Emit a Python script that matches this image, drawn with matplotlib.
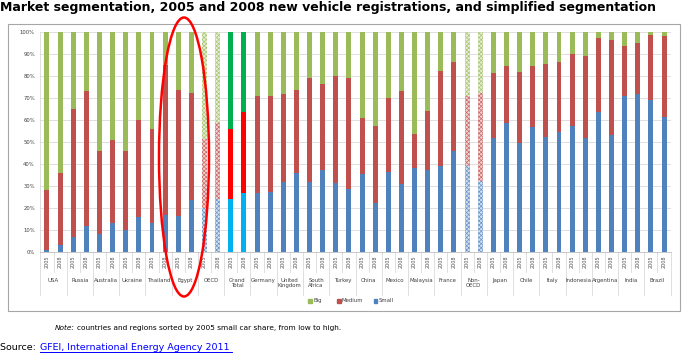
import matplotlib
matplotlib.use("Agg")
import matplotlib.pyplot as plt
from matplotlib.patches import Ellipse, Rectangle
import matplotlib.transforms as mtransforms
import matplotlib.colors as mcolors
import numpy as np

countries = ["USA", "Russia", "Australia", "Ukraine", "Thailand", "Egypt", "OECD",
             "Grand\nTotal", "Germany", "United\nKingdom", "South\nAfrica", "Turkey",
             "China", "Mexico", "Malaysia", "France", "Non-\nOECD", "Japan", "Chile",
             "Italy", "Indonesia", "Argentina", "India", "Brazil"]
years = ["2005", "2008"]

small = [1, 3, 7, 12, 8, 13, 10, 16, 13, 17, 16.5, 23.5, 20, 24, 24, 27,
         27, 27.5, 32, 36, 32, 37.5, 31.5, 28.5, 35.5, 22.5, 36.5, 31, 38, 37.5, 39, 46,
         39, 32.5, 52, 58.5, 49.5, 57, 52.5, 54.5, 57.5, 52, 63.5, 53, 71, 72, 69, 61.5]
medium = [27, 33, 58, 61, 38, 38, 36, 44, 43, 68, 57, 49, 31.5, 34.5, 32, 36.5,
          44, 43.5, 40, 37.5, 47, 39, 48.5, 50.5, 25.5, 35, 33.5, 42, 15.5, 26.5, 43.5, 40.5,
          32, 40, 29.5, 26, 32.5, 27.5, 33, 32, 32.5, 37, 34, 43.5, 22.5, 23, 29.5, 36.5]
big = [72, 64, 35, 27, 54, 49, 54, 40, 44, 15, 26.5, 27.5, 48.5, 41.5, 44, 36.5,
       29, 29, 28, 26.5, 21, 23.5, 20, 21, 39, 42.5, 30, 27, 46.5, 36, 17.5, 13.5,
       29, 27.5, 18.5, 15.5, 18, 15.5, 14.5, 13.5, 10, 11, 2.5, 3.5, 6.5, 5, 1.5, 2]

hatched_groups = ["OECD", "Non-\nOECD"]
bright_groups = ["Grand\nTotal"]

C_BIG, C_MED, C_SMALL = "#9BBB59", "#C0504D", "#4F81BD"
B_BIG, B_MED, B_SMALL = "#00B050", "#FF0000", "#00B0F0"

plt.rcParams["hatch.linewidth"] = 0.5

def tint(c, f):
    r = np.array(mcolors.to_rgb(c))
    return tuple(r + (1 - r) * f)

W, H = 682, 355
fig = plt.figure(figsize=(W / 100, H / 100), dpi=100)

def fx(px):
    return px / W

def fy(py):
    return 1 - py / H

# chart frame
fig.patches.append(Rectangle((fx(8), fy(311)), fx(680) - fx(8), fy(24) - fy(311),
                             transform=fig.transFigure, facecolor="none",
                             edgecolor="#A6A6A6", lw=0.8, zorder=-1))

ax = fig.add_axes([fx(40.4), fy(252), fx(670.6) - fx(40.4), fy(32) - fy(252)])
ax.set_facecolor("none")

n = len(small)
x = np.arange(n)
bw = 0.38
for i in range(n):
    g = countries[i // 2]
    if g in hatched_groups:
        cols = [C_SMALL, C_MED, C_BIG]
        bottom = 0
        for val, c in zip([small[i], medium[i], big[i]], cols):
            ax.bar(x[i], val, bw, bottom=bottom, facecolor=tint(c, 0.75),
                   edgecolor=tint(c, 0.15), hatch="xxxxxxxx", linewidth=0, zorder=3)
            bottom += val
    else:
        cols = [B_SMALL, B_MED, B_BIG] if g in bright_groups else [C_SMALL, C_MED, C_BIG]
        ax.bar(x[i], small[i], bw, color=cols[0], zorder=3, linewidth=0)
        ax.bar(x[i], medium[i], bw, bottom=small[i], color=cols[1], zorder=3, linewidth=0)
        ax.bar(x[i], big[i], bw, bottom=small[i] + medium[i], color=cols[2], zorder=3,
               linewidth=0)

ax.set_xlim(-0.5, n - 0.5)
ax.set_ylim(0, 100)
ax.set_yticks(np.arange(0, 101, 10))
ax.set_yticklabels([f"{v}%" for v in range(0, 101, 10)], fontsize=3.8, color="#404040")
ax.yaxis.grid(True, color="#D9D9D9", lw=0.6, zorder=0)
ax.tick_params(axis="y", length=0, pad=4)
ax.tick_params(axis="x", length=0)
ax.set_xticks([])
for s in ["top", "right"]:
    ax.spines[s].set_visible(False)
ax.spines["bottom"].set_color("#BFBFBF")
ax.spines["bottom"].set_linewidth(0.6)
ax.spines["left"].set_color("#D9D9D9")
ax.spines["left"].set_linewidth(0.6)

trans = mtransforms.blended_transform_factory(ax.transData, ax.transAxes)
px_y = 1 / 220.0
for i in range(n):
    ax.text(x[i], -4 * px_y, years[i % 2], rotation=90, fontsize=3.5, ha="center",
            va="top", transform=trans, color="#505050")
for k in range(len(countries) + 1):
    xb = 2 * k - 0.5
    ax.plot([xb, xb], [0, -43 * px_y], transform=trans, color="#D9D9D9", lw=0.6,
            clip_on=False)
for k in range(len(countries)):
    xb = 2 * k + 0.5
    ax.plot([xb, xb], [0, -20 * px_y], transform=trans, color="#D9D9D9", lw=0.6,
            clip_on=False)
    ax.text(2 * k + 0.5, -26 * px_y, countries[k], fontsize=3.9, ha="center", va="top",
            transform=trans, color="#404040", linespacing=1.1)

# legend
lx = [308, 337, 374]
labels = ["Big", "Medium", "Small"]
lcols = [C_BIG, C_MED, C_SMALL]
for px, lab, c in zip(lx, labels, lcols):
    fig.patches.append(Rectangle((fx(px), fy(302.5)), fx(3.5), 3.5 / H,
                                 transform=fig.transFigure, color=c))
    fig.text(fx(px + 5), fy(300.5), lab, fontsize=3.9, va="center", ha="left",
             color="#404040")

# highlight ellipse
fig.patches.append(Ellipse((fx(184), fy(157)), fx(50), 279 / H, transform=fig.transFigure,
                           fill=False, edgecolor="#FF0000", lw=1.8, zorder=10))

fig.text(fx(0), fy(8), "Market segmentation, 2005 and 2008 new vehicle registrations, and simplified segmentation",
         fontsize=9.0, fontweight="bold", ha="left", va="center", color="black")

fig.canvas.draw()
tn = fig.text(fx(55), fy(328), "Note:", fontsize=5.3, style="italic", ha="left", va="center")
fig.canvas.draw()
bbn = tn.get_window_extent()
fig.text((bbn.x1 + 2) / W, fy(328),
         "countries and regions sorted by 2005 small car share, from low to high.",
         fontsize=5.3, ha="left", va="center")

ts = fig.text(fx(0), fy(348), "Source: ", fontsize=6.8, ha="left", va="center")
fig.canvas.draw()
bbs = ts.get_window_extent()
t = fig.text((bbs.x1 + 1) / W, fy(348), "GFEI, International Energy Agency 2011 ", fontsize=6.8,
             ha="left", va="center", color="#0000FF")
fig.canvas.draw()
bb = t.get_window_extent()
fig.lines.append(plt.Line2D([bb.x0 / W, bb.x1 / W], [(bb.y0 + 0.5) / H, (bb.y0 + 0.5) / H],
                            transform=fig.transFigure, color="#0000FF", lw=0.7))

fig.savefig("out.png", dpi=100)
